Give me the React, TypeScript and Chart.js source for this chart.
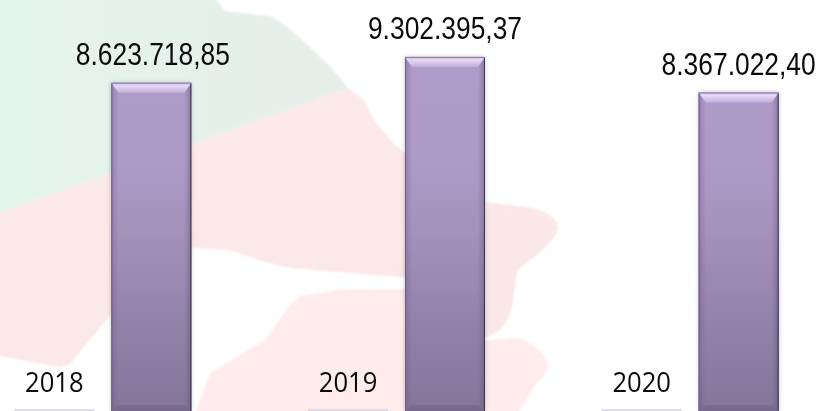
import React, { useEffect, useRef } from "react";
import { Chart, registerables } from "chart.js";

Chart.register(...registerables);

const categories = ["2018", "2019", "2020"];
const yearSeries = [2018, 2019, 2020];
const amountSeries = [8623718.85, 9302395.37, 8367022.4];
const amountLabels = ["8.623.718,85", "9.302.395,37", "8.367.022,40"];
const yMax = 10797000;

function stretchedText(ctx: any, text: string, x: number, y: number, font: string, sy: number) {
  ctx.save();
  ctx.translate(x, y);
  ctx.scale(1, sy);
  ctx.font = font;
  ctx.fillStyle = "#0a0a0a";
  ctx.textAlign = "center";
  ctx.textBaseline = "alphabetic";
  ctx.fillText(text, 0, 0);
  ctx.restore();
}

function poly(ctx: any, pts: number[][], fill: any) {
  ctx.beginPath();
  pts.forEach((p, i) => (i ? ctx.lineTo(p[0], p[1]) : ctx.moveTo(p[0], p[1])));
  ctx.closePath();
  ctx.fillStyle = fill;
  ctx.fill();
}

function vGrad(ctx: any, y0: number, y1: number, stops: [number, string][]) {
  const g = ctx.createLinearGradient(0, y0, 0, y1);
  stops.forEach(([o, c]) => g.addColorStop(o, c));
  return g;
}

function hGrad(ctx: any, x0: number, x1: number, a: string, b: string) {
  const g = ctx.createLinearGradient(x0, 0, x1, 0);
  g.addColorStop(0, a);
  g.addColorStop(1, b);
  return g;
}

const bevelPlugin = {
  id: "bevel",
  beforeDatasetsDraw(chart: any) {
    const { ctx } = chart;
    chart.getDatasetMeta(1).data.forEach((bar: any) => {
      const l = bar.x - bar.width / 2;
      ctx.save();
      ctx.shadowColor = "rgba(60,50,80,0.3)";
      ctx.shadowBlur = 4;
      ctx.fillStyle = "#a896bf";
      ctx.fillRect(l, bar.y, bar.width, bar.base - bar.y);
      ctx.restore();
    });
  },
  afterDatasetsDraw(chart: any) {
    const { ctx } = chart;
    chart.getDatasetMeta(1).data.forEach((bar: any) => {
      const l = bar.x - bar.width / 2;
      const r = bar.x + bar.width / 2;
      const t = bar.y;
      const b = bar.base;
      const side = 7;
      const top = 10;
      const bot = 6;
      // side bevels
      poly(ctx, [[l, t], [l + side, t + top], [l + side, b - bot], [l, b]], hGrad(ctx, l, l + side, "rgba(80,65,125,0.32)", "rgba(120,100,150,0.04)"));
      poly(ctx, [[r, t], [r - side, t + top], [r - side, b - bot], [r, b]], hGrad(ctx, r, r - side, "rgba(60,50,85,0.36)", "rgba(110,95,135,0.04)"));
      // top bevel
      poly(ctx, [[l, t], [r, t], [r - side, t + top], [l + side, t + top]], vGrad(ctx, t, t + top, [[0, "#c6b5dc"], [0.3, "#e6d8f6"], [1, "#c2b0da"]]));
      // bottom bevel
      poly(ctx, [[l, b], [r, b], [r - side, b - bot], [l + side, b - bot]], "rgba(70,58,95,0.2)");
      // edges
      ctx.fillStyle = "#6f6387";
      ctx.fillRect(l, t + 1, 1, b - t);
      ctx.fillStyle = "#3f3a4e";
      ctx.fillRect(r - 1, t + 1, 1, b - t);
      ctx.fillStyle = "#8c7ea3";
      ctx.fillRect(l, t, bar.width, 1);
    });
    chart.getDatasetMeta(1).data.forEach((bar: any, i: number) => {
      stretchedText(ctx, amountLabels[i], bar.x + (i === 0 ? 1.5 : 0), bar.y - 17.5, '26.4px "Liberation Sans"', 1.16);
    });
    chart.getDatasetMeta(0).data.forEach((bar: any, i: number) => {
      stretchedText(ctx, String(yearSeries[i]), bar.x, bar.y - 17.5, '25.6px "Open Sans"', 1.06);
    });
  },
};

function Backdrop() {
  return (
    <svg width={820} height={411} style={{ position: "absolute", left: 0, top: 0 }}>
      <defs>
        <linearGradient id="gr" x1="0" y1="0" x2="1" y2="0">
          <stop offset="0" stopColor="#e4f5ec" />
          <stop offset="1" stopColor="#e6eee9" />
        </linearGradient>
        <linearGradient id="rd" x1="0" y1="0" x2="1" y2="1">
          <stop offset="0" stopColor="#feeaea" />
          <stop offset="1" stopColor="#f9e6e6" />
        </linearGradient>
        <filter id="soft" x="-5%" y="-5%" width="110%" height="110%">
          <feGaussianBlur stdDeviation="0.8" />
        </filter>
      </defs>
      <g filter="url(#soft)">
        <path
          d="M-5 -5 L213 -5 L225 11 L270 16 Q285 24 300 38 L330 66 L348 88 L-5 214 Z"
          fill="url(#gr)"
        />
        <path
          d="M-5 214 L348 88 L364 100 L375 122 L395 145 L412 158 L485 202 L533 208 Q556 214 558 228 Q556 240 533 258 L517 270 L513 300 Q510 320 500 330 L485 338 L440 300 L405 277 L340 272 L290 268 L265 262 L230 250 L193 248 L111 314 L70 364 L60 367 L-5 355 Z"
          fill="url(#rd)"
        />
        <path
          d="M193 420 L210 373 L265 340 L290 305 L300 296 L340 290 L405 289 L440 300 L485 340 L520 338 Q545 350 548 365 Q545 378 535 385 L517 415 Z"
          fill="#feebeb"
        />
      </g>
    </svg>
  );
}

export default function App() {
  const ref = useRef<HTMLCanvasElement>(null);
  useEffect(() => {
    const canvas = ref.current!;
    const chart = new Chart(canvas, {
      type: "bar",
      data: {
        labels: categories,
        datasets: [
          {
            label: "Ano",
            data: yearSeries,
            backgroundColor: "#dcdbe8",
            minBarLength: 2,
            categoryPercentage: 0.6604,
            barPercentage: 0.825,
          },
          {
            label: "Valor",
            data: amountSeries,
            backgroundColor: (c: any) => {
              const { ctx, chartArea } = c.chart;
              if (!chartArea) return "#a896bf";
              return vGrad(ctx, 0, 411, [
                [0, "#b09dcb"],
                [0.4, "#ad9ac7"],
                [0.56, "#a592bb"],
                [0.75, "#9584ab"],
                [1, "#857599"],
              ]);
            },
            categoryPercentage: 0.6604,
            barPercentage: 0.825,
          },
        ],
      },
      options: {
        animation: false,
        responsive: false,
        layout: { padding: 0 },
        scales: {
          x: { display: false },
          y: { display: false, min: 0, max: yMax },
        },
        plugins: { legend: { display: false }, tooltip: { enabled: false } },
      },
      plugins: [bevelPlugin],
    } as any);
    return () => chart.destroy();
  }, []);
  return (
    <div style={{ position: "absolute", left: 0, top: 0, width: 820, height: 411, overflow: "hidden", background: "#fff" }}>
      <Backdrop />
      <canvas ref={ref} width={881} height={411} style={{ position: "absolute", left: -44, top: 0, width: 881, height: 411 }} />
    </div>
  );
}
